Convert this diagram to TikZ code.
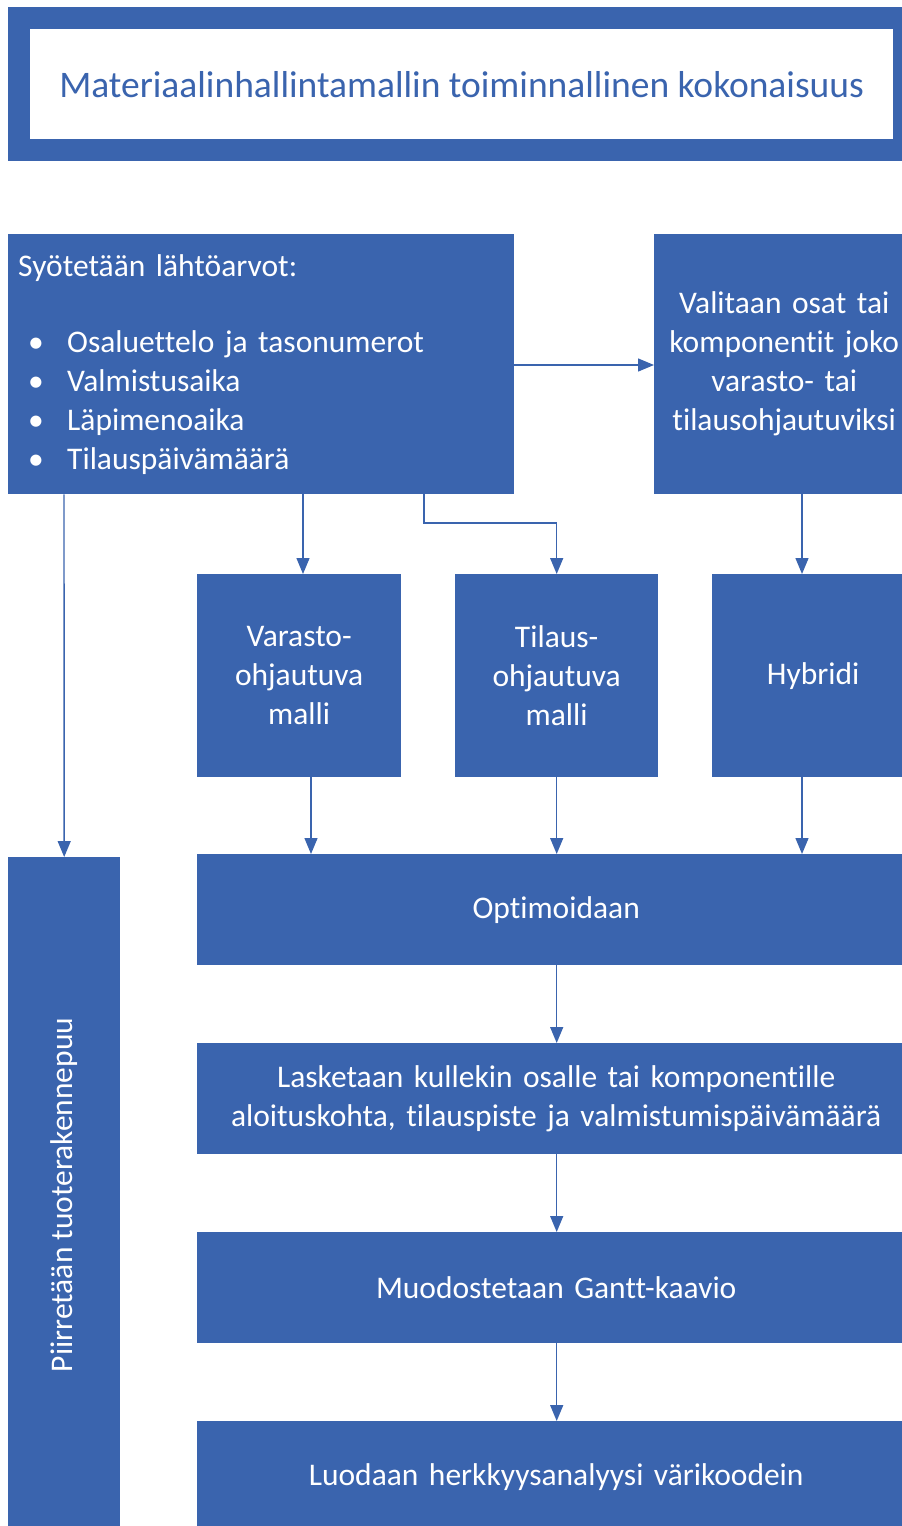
\documentclass[tikz,border=0pt]{standalone}
\usepackage{fontspec}
\setmainfont[Ligatures=NoCommon]{Carlito}
\usetikzlibrary{arrows.meta}
\definecolor{boxblue}{RGB}{58,100,174}
\begin{document}
\begin{tikzpicture}[x=1pt,y=-1pt,
  box/.style={fill=boxblue, draw=none, text=white, inner sep=0pt, anchor=north west,
    font=\fontsize{31.5}{39}\selectfont, align=center},
  arr/.style={draw=boxblue, line width=1.4pt, -{Triangle[length=16pt,width=13pt]}}]
\useasboundingbox (0,0) rectangle (902,1526);
\clip (0,0) rectangle (902,1526);

% title frame
\node[fill=boxblue, inner sep=0pt, anchor=north west, minimum width=894pt, minimum height=154pt] (frame) at (8,7) {};
\node[fill=white, inner sep=0pt, anchor=north west, minimum width=863pt, minimum height=110pt,
  text=boxblue, font=\fontsize{37.5}{44}\selectfont] (title) at (30,29) {Materiaalinhallintamallin toiminnallinen kokonaisuus};

% input values
\node[box, minimum width=506pt, minimum height=260pt, text width=486pt, inner xsep=10pt, align=left] (inp) at (8,234)
{Syötetään lähtöarvot:\\[37pt]
\hspace*{10pt}\makebox[39pt][l]{•}Osaluettelo ja tasonumerot\\
\hspace*{10pt}\makebox[39pt][l]{•}Valmistusaika\\
\hspace*{10pt}\makebox[39pt][l]{•}Läpimenoaika\\
\hspace*{10pt}\makebox[39pt][l]{•}Tilauspäivämäärä};

\node[box, minimum width=260pt, minimum height=260pt, text width=260pt] (sel) at (654,234)
{Valitaan osat tai\\komponentit joko\\varasto- tai\\tilausohjautuviksi};

% model boxes
\node[box, minimum width=204pt, minimum height=203pt, text width=204pt] (var) at (197,574) {Varasto-\\ohjautuva\\malli};
\node[box, minimum width=203pt, minimum height=203pt, text width=203pt] (til) at (455,574) {Tilaus-\\ohjautuva\\malli};
\node[box, minimum width=202pt, minimum height=203pt, text width=202pt] (hyb) at (712,574) {Hybridi};

% process steps
\node[box, minimum width=718pt, minimum height=111pt, text width=718pt] (opt) at (197,854) {Optimoidaan};
\node[box, minimum width=718pt, minimum height=111pt, text width=718pt] (calc) at (197,1043)
{Lasketaan kullekin osalle tai komponentille\\aloituskohta, tilauspiste ja valmistumispäivämäärä};
\node[box, minimum width=718pt, minimum height=111pt, text width=718pt] (gantt) at (197,1232) {Muodostetaan Gantt-kaavio};
\node[box, minimum width=718pt, minimum height=111pt, text width=718pt] (sens) at (197,1421) {Luodaan herkkyysanalyysi värikoodein};

% product structure tree
\node[box, minimum width=112pt, minimum height=669pt] (tree) at (8,857) {};
\node[text=white, rotate=90, inner sep=0pt, font=\fontsize{31.5}{39}\selectfont] (treetext) at (64,1195) {Piirretään tuoterakennepuu};

% connectors
\draw[arr] (inp.east |- 0,365) -- (sel.west |- 0,365);
\draw[arr] (303,0 |- inp.south) -- (303,0 |- var.north);
\draw[arr] (424,0 |- inp.south) -- (424,523) -- (til.north |- 0,523) -- (til.north);
\draw[arr] (802,0 |- sel.south) -- (802,0 |- hyb.north);
\draw[arr] (64,0 |- inp.south) -- (tree.north);
\draw[arr] (311,0 |- var.south) -- (311,0 |- opt.north);
\draw[arr] (til.south) -- (til.south |- opt.north);
\draw[arr] (802,0 |- hyb.south) -- (802,0 |- opt.north);
\draw[arr] (opt.south -| til.south) -- (calc.north -| til.south);
\draw[arr] (calc.south -| til.south) -- (gantt.north -| til.south);
\draw[arr] (gantt.south -| til.south) -- (sens.north -| til.south);
\end{tikzpicture}
\end{document}
